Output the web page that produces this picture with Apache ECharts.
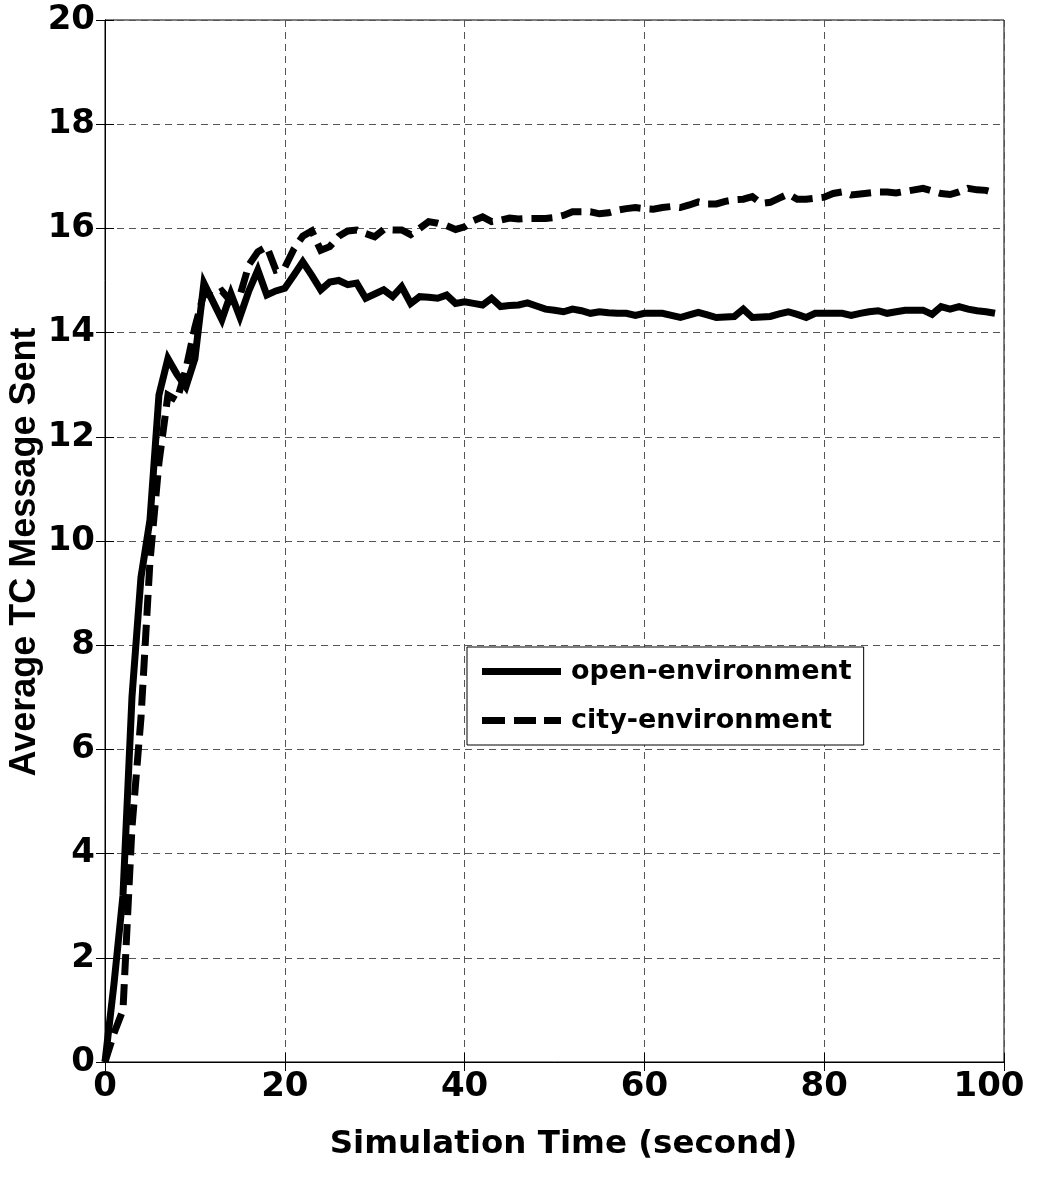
<!DOCTYPE html>
<html>
<head>
<meta charset="utf-8">
<title>Average TC Message Sent</title>
<script src="https://cdn.jsdelivr.net/npm/echarts@6/dist/echarts.min.js"></script>
<style>
  html, body { margin: 0; padding: 0; background: #fff; overflow: hidden; }
  #chart { width: 1037px; height: 1189px; }
</style>
</head>
<body>
<div id="chart"></div>
<script>
// Simulation time in seconds (one sample per second)
const simTime = [
  0, 1, 2, 3, 4, 5, 6, 7, 8, 9, 10, 11, 12, 13, 14, 15, 16, 17, 18, 19,
  20, 21, 22, 23, 24, 25, 26, 27, 28, 29, 30, 31, 32, 33, 34, 35, 36, 37, 38, 39,
  40, 41, 42, 43, 44, 45, 46, 47, 48, 49, 50, 51, 52, 53, 54, 55, 56, 57, 58, 59,
  60, 61, 62, 63, 64, 65, 66, 67, 68, 69, 70, 71, 72, 73, 74, 75, 76, 77, 78, 79,
  80, 81, 82, 83, 84, 85, 86, 87, 88, 89, 90, 91, 92, 93, 94, 95, 96, 97, 98, 99
];

// Average TC messages sent, open environment
const openEnv = [
  0, 1.5, 3.2, 7.0, 9.3, 10.4, 12.8, 13.5, 13.2, 12.96,
  13.5, 14.95, 14.6, 14.25, 14.75, 14.3, 14.8, 15.2, 14.72, 14.8,
  14.85, 15.1, 15.36, 15.1, 14.82, 14.97, 15.0, 14.92, 14.95, 14.66,
  14.74, 14.82, 14.69, 14.88, 14.56, 14.69, 14.68, 14.66, 14.72, 14.56,
  14.59, 14.56, 14.53, 14.66, 14.5, 14.52, 14.53, 14.57, 14.51, 14.45,
  14.43, 14.4, 14.45, 14.42, 14.37, 14.4, 14.38, 14.37, 14.37, 14.33,
  14.37, 14.37, 14.37, 14.33, 14.29, 14.34, 14.39, 14.34, 14.29, 14.3,
  14.31, 14.45, 14.29, 14.3, 14.31, 14.36, 14.4, 14.35, 14.29, 14.37,
  14.37, 14.37, 14.37, 14.33, 14.37, 14.4, 14.42, 14.37, 14.4, 14.43,
  14.43, 14.43, 14.35, 14.5, 14.45, 14.5, 14.45, 14.42, 14.4, 14.37
];

// Average TC messages sent, city environment
const cityEnv = [
  0, 0.55, 1.0, 4.5, 6.6, 9.6, 11.5, 12.8, 12.7, 13.3,
  14.1, 14.75, 14.7, 14.8, 14.6, 14.7, 15.3, 15.55, 15.65, 15.2,
  15.25, 15.6, 15.85, 15.95, 15.58, 15.65, 15.85, 15.95, 15.97, 15.9,
  15.84, 15.98, 15.97, 15.97, 15.88, 16.0, 16.13, 16.1, 16.05, 15.98,
  16.03, 16.15, 16.22, 16.13, 16.16, 16.2, 16.18, 16.19, 16.19, 16.19,
  16.21, 16.25, 16.32, 16.32, 16.32, 16.28, 16.3, 16.35, 16.38, 16.4,
  16.38, 16.37, 16.4, 16.42, 16.4, 16.45, 16.51, 16.47, 16.47, 16.52,
  16.55, 16.56, 16.61, 16.48, 16.5, 16.58, 16.66, 16.56, 16.56, 16.58,
  16.6, 16.67, 16.7, 16.64, 16.66, 16.68, 16.7, 16.7, 16.68, 16.71,
  16.74, 16.77, 16.72, 16.67, 16.65, 16.7, 16.77, 16.74, 16.73, 16.68
];

const seriesNames = ['open-environment', 'city-environment'];
const xLabel = 'Simulation Time (second)';
const yLabel = 'Average TC Message Sent';

const pairs = (ys) => simTime.map((t, i) => [t, ys[i]]);

// Legend glyphs: a solid bar and three dashes
const solidIcon = 'path://M0,0h79v7h-79z';
const dashedIcon = 'path://M0,0h23v7h-23z M32,0h22v7h-22z M62,0h17v7h-17z';

const tickFont = {
  color: '#000',
  fontFamily: 'DejaVu Sans',
  fontWeight: 'bold',
  fontSize: 34
};

const gridLine = {
  show: true,
  lineStyle: { color: '#555', width: 1, type: [7, 5] }
};

const innerTicks = {
  show: true,
  inside: true,
  length: 9,
  lineStyle: { color: '#000', width: 1 }
};

const chart = echarts.init(document.getElementById('chart'), null, { renderer: 'canvas' });

chart.setOption({
  backgroundColor: '#fff',
  animation: false,
  grid: {
    left: 105, right: 33, top: 20, bottom: 127,
    containLabel: false,
    outerBoundsMode: 'none',
    show: true, borderColor: '#000', borderWidth: 1, backgroundColor: 'transparent'
  },
  legend: {
    data: [
      { name: seriesNames[0], icon: solidIcon },
      { name: seriesNames[1], icon: dashedIcon }
    ],
    orient: 'vertical',
    left: 467,
    top: 647,
    padding: [11, 12, 11, 15],
    itemWidth: 79,
    itemHeight: 7,
    itemGap: 22,
    borderColor: '#000',
    borderWidth: 1,
    backgroundColor: '#fff',
    itemStyle: { color: '#000', borderWidth: 0 },
    lineStyle: { width: 0 },
    textStyle: {
      color: '#000',
      fontFamily: 'DejaVu Sans',
      fontWeight: 'bold',
      fontSize: 27,
      padding: [0, 0, 0, 5]
    }
  },
  xAxis: [
    {
      type: 'value',
      min: 0, max: 100, interval: 20,
      name: xLabel,
      nameLocation: 'middle',
      nameGap: 66,
      nameMoveOverlap: false,
      nameTextStyle: {
        color: '#000', fontFamily: 'DejaVu Sans', fontWeight: 'bold', fontSize: 32.5,
        padding: [0, 0, 0, 18]
      },
      axisLine: { show: true, lineStyle: { color: '#000', width: 1 } },
      axisTick: innerTicks,
      axisLabel: Object.assign({
        margin: 8,
        // keep the last label inside the page edge
        formatter: (v) => (v === 100 ? '{edge|' + v + '}' : String(v)),
        rich: {
          edge: Object.assign({ padding: [0, 30, 0, 0] }, tickFont)
        }
      }, tickFont),
      splitLine: gridLine
    },
    {
      type: 'value',
      position: 'top',
      min: 0, max: 100, interval: 20,
      axisLine: { show: true, lineStyle: { color: '#000', width: 1 } },
      axisTick: innerTicks,
      axisLabel: { show: false },
      splitLine: { show: false }
    }
  ],
  yAxis: [
    {
      type: 'value',
      min: 0, max: 20, interval: 2,
      name: yLabel,
      nameLocation: 'middle',
      nameGap: 62,
      nameRotate: 90,
      nameMoveOverlap: false,
      nameTextStyle: {
        color: '#000', fontFamily: 'Liberation Sans', fontWeight: 'bold', fontSize: 36,
        padding: [0, 22, 0, 0]
      },
      axisLine: { show: true, lineStyle: { color: '#000', width: 1 } },
      axisTick: innerTicks,
      axisLabel: Object.assign({ margin: 10 }, tickFont),
      splitLine: gridLine
    },
    {
      type: 'value',
      position: 'right',
      min: 0, max: 20, interval: 2,
      axisLine: { show: true, lineStyle: { color: '#000', width: 1 } },
      axisTick: innerTicks,
      axisLabel: { show: false },
      splitLine: { show: false }
    }
  ],
  series: [
    {
      name: seriesNames[0],
      type: 'line',
      xAxisIndex: 0,
      yAxisIndex: 0,
      data: pairs(openEnv),
      symbol: 'none',
      lineStyle: { color: '#000', width: 7, type: 'solid', join: 'miter' },
      itemStyle: { color: '#000' },
      z: 3
    },
    {
      name: seriesNames[1],
      type: 'line',
      xAxisIndex: 0,
      yAxisIndex: 0,
      data: pairs(cityEnv),
      symbol: 'none',
      lineStyle: { color: '#000', width: 7, type: [21, 9], cap: 'butt', join: 'miter' },
      itemStyle: { color: '#000' },
      z: 2
    }
  ]
});
</script>
</body>
</html>
